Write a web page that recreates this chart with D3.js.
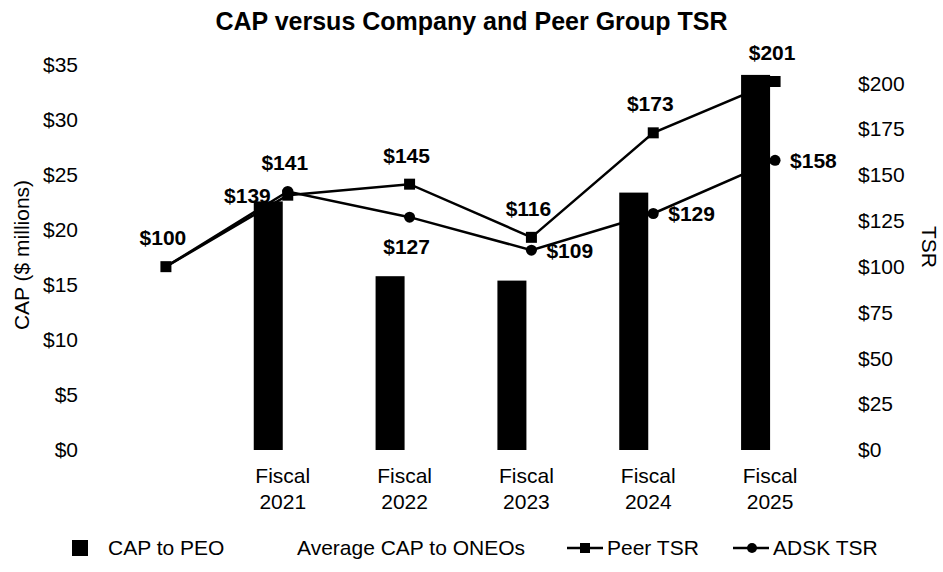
<!DOCTYPE html>
<html>
<head>
<meta charset="utf-8">
<script src="https://cdn.jsdelivr.net/npm/d3@7"></script>
<style>
  body { margin: 0; background: #ffffff; }
  svg { display: block; font-family: "Liberation Sans", Arial, sans-serif; }
</style>
</head>
<body>
<svg id="chart" width="943" height="572"></svg>
<script>
// data
const categories = ["Start", "Fiscal 2021", "Fiscal 2022", "Fiscal 2023", "Fiscal 2024", "Fiscal 2025"];
const capToPeo   = [null, 22.6, 15.8, 15.4, 23.4, 34.1];   // $ millions
const peerTsr    = [100, 139, 145, 116, 173, 201];
const adskTsr    = [100, 141, 127, 109, 129, 158];
const leftTicks  = [0, 5, 10, 15, 20, 25, 30, 35];
const rightTicks = [0, 25, 50, 75, 100, 125, 150, 175, 200];
// where each data label sits relative to its point
const peerLabelPos = ["none", "left", "above", "above", "above", "above"];
const adskLabelPos = ["above", "above", "below", "right", "right", "right"];
const legendItems  = ["CAP to PEO", "Average CAP to ONEOs", "Peer TSR", "ADSK TSR"];

function load_combo(svg_name) {
    let chart = d3.select(svg_name);
    let chart_width  = +chart.attr("width");
    let chart_height = +chart.attr("height");

    let plotTop = 65, plotBottom = 450;

    // category position scale
    let x = d3.scaleBand()
        .domain(categories)
        .range([105, 836])
        .paddingInner(0);

    // bars sit in a group shifted a bit left of the category centre
    let groupShift = -5;
    let x1 = d3.scaleBand()
        .domain(["PEO", "ONEO"])
        .range([-29, 29]);

    let y = d3.scaleLinear()
        .domain([0, 35])
        .range([plotBottom, plotTop]);

    let y2 = d3.scaleLinear()
        .domain([0, 210])
        .range([plotBottom, plotTop]);

    function cx(d) { return x(d) + x.bandwidth() / 2; }

    // title
    chart.append("text")
        .text("CAP versus Company and Peer Group TSR")
        .attr("x", chart_width / 2)
        .attr("y", 30)
        .style("text-anchor", "middle")
        .style("font-size", "25px")
        .style("font-weight", "bold")
        .style("fill", "#000000");

    // left axis
    let yAxisGroup = chart.append("g")
        .attr("transform", "translate(78,0)")
        .call(d3.axisLeft(y).tickValues(leftTicks).tickSize(0).tickPadding(0)
            .tickFormat(function(d) { return "$" + d; }));
    yAxisGroup.select(".domain").remove();
    yAxisGroup.selectAll("text")
        .style("font-size", "21px")
        .style("font-family", "Liberation Sans, Arial, sans-serif")
        .style("fill", "#000000");

    // right axis
    let y2AxisGroup = chart.append("g")
        .attr("transform", "translate(858,0)")
        .call(d3.axisRight(y2).tickValues(rightTicks).tickSize(0).tickPadding(0)
            .tickFormat(function(d) { return "$" + d; }));
    y2AxisGroup.select(".domain").remove();
    y2AxisGroup.selectAll("text")
        .style("font-size", "21px")
        .style("font-family", "Liberation Sans, Arial, sans-serif")
        .style("fill", "#000000");

    // category axis, two line labels
    let xAxisGroup = chart.append("g")
        .attr("transform", "translate(" + groupShift + "," + plotBottom + ")")
        .call(d3.axisBottom(x).tickSize(0).tickFormat(function(d) { return d == "Start" ? "" : d; }));
    xAxisGroup.select(".domain").remove();
    xAxisGroup.selectAll("text")
        .attr("y", 0)
        .attr("dy", null)
        .style("font-size", "21px")
        .style("font-family", "Liberation Sans, Arial, sans-serif")
        .style("fill", "#000000")
        .each(function(d) {
            let t = d3.select(this);
            if (d == "Start") return;
            let parts = d.split(" ");
            t.text(null);
            t.append("tspan").attr("x", 0).attr("y", 33).text(parts[0]);
            t.append("tspan").attr("x", 0).attr("y", 59).text(parts[1]);
        });

    // axis titles
    chart.append("text")
        .text("CAP ($ millions)")
        .attr("transform", "translate(29,255) rotate(-90)")
        .style("text-anchor", "middle")
        .style("font-size", "21px")
        .style("fill", "#000000");

    chart.append("text")
        .text("TSR")
        .attr("transform", "translate(922,247) rotate(90)")
        .style("text-anchor", "middle")
        .style("font-size", "21px")
        .style("fill", "#000000");

    // lines
    let peerData = categories.map(function(c, i) { return { cat: c, v: peerTsr[i], pos: peerLabelPos[i] }; });
    let adskData = categories.map(function(c, i) { return { cat: c, v: adskTsr[i], pos: adskLabelPos[i] }; });

    let line = d3.line()
        .x(function(d) { return cx(d.cat); })
        .y(function(d) { return y2(d.v); });

    chart.append("path")
        .datum(peerData)
        .attr("fill", "none")
        .attr("stroke", "#000000")
        .attr("stroke-width", 2.5)
        .attr("d", line);

    chart.selectAll("peerdots")
        .data(peerData)
        .enter()
        .append("rect")
        .attr("x", function(d) { return cx(d.cat) - 5.5; })
        .attr("y", function(d) { return y2(d.v) - 5.5; })
        .attr("width", 11)
        .attr("height", 11)
        .style("fill", "#000000");

    chart.append("path")
        .datum(adskData)
        .attr("fill", "none")
        .attr("stroke", "#000000")
        .attr("stroke-width", 2.5)
        .attr("d", line);

    chart.selectAll("adskdots")
        .data(adskData.slice(1))
        .enter()
        .append("circle")
        .attr("cx", function(d) { return cx(d.cat); })
        .attr("cy", function(d) { return y2(d.v); })
        .attr("r", 5.5)
        .style("fill", "#000000");

    // bars drawn over the lines, as in the reference
    let barData = categories.map(function(c, i) { return { cat: c, v: capToPeo[i] }; })
        .filter(function(d) { return d.v != null; });

    chart.selectAll("bars")
        .data(barData)
        .enter()
        .append("rect")
        .attr("x", function(d) { return cx(d.cat) + groupShift + x1("PEO"); })
        .attr("y", function(d) { return y(d.v); })
        .attr("width", x1.bandwidth())
        .attr("height", function(d) { return y(0) - y(d.v); })
        .style("fill", "#000000");

    // data labels
    function placeLabels(data) {
        chart.selectAll("lbl")
            .data(data.filter(function(d) { return d.pos != "none"; }))
            .enter()
            .append("text")
            .text(function(d) { return "$" + d.v; })
            .attr("x", function(d) {
                if (d.pos == "right") return cx(d.cat) + 15;
                if (d.pos == "left") return cx(d.cat) - 17;
                return cx(d.cat) - 3;
            })
            .attr("y", function(d) {
                if (d.pos == "above") return y2(d.v) - 29;
                if (d.pos == "below") return y2(d.v) + 29;
                return y2(d.v);
            })
            .attr("dy", "0.35em")
            .style("text-anchor", function(d) {
                if (d.pos == "right") return "start";
                if (d.pos == "left") return "end";
                return "middle";
            })
            .style("font-size", "21px")
            .style("font-weight", "bold")
            .style("fill", "#000000");
    }
    placeLabels(peerData);
    placeLabels(adskData);

    // legend
    let legendY = 548;
    let legendX = [72, 260, 567, 733];
    let legend = chart.selectAll("legenditems")
        .data(legendItems)
        .enter()
        .append("g")
        .attr("transform", function(d, i) { return "translate(" + legendX[i] + "," + legendY + ")"; });

    legend.each(function(d, i) {
        let g = d3.select(this);
        if (i < 2) {
            g.append("rect")
                .attr("x", 0).attr("y", -8)
                .attr("width", 16).attr("height", 16)
                .style("fill", i == 0 ? "#000000" : "#ffffff");
            g.append("text").attr("x", i == 0 ? 36 : 37).attr("dy", "0.35em").text(d);
        } else {
            g.append("line")
                .attr("x1", 0).attr("x2", 36)
                .attr("stroke", "#000000").attr("stroke-width", 2.5);
            if (i == 2) {
                g.append("rect").attr("x", 13).attr("y", -5).attr("width", 10).attr("height", 10).style("fill", "#000000");
            } else {
                g.append("circle").attr("cx", 19).attr("r", 5).style("fill", "#000000");
            }
            g.append("text").attr("x", 40).attr("dy", "0.35em").text(d);
        }
    });
    legend.selectAll("text")
        .style("font-size", "21px")
        .style("fill", "#000000");

    return {
        chart: chart,
        x_scale: x,
        y_scale: y,
        y2_scale: y2
    };
}

load_combo("#chart");
</script>
</body>
</html>
